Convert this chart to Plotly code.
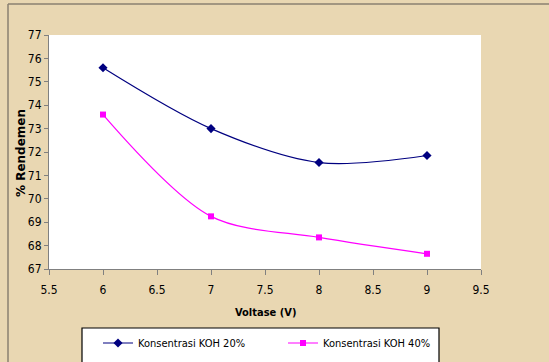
import plotly.graph_objects as go

voltase = [6, 7, 8, 9]
koh20 = [75.6, 73.0, 71.55, 71.85]
koh40 = [73.6, 69.25, 68.35, 67.65]
x_ticks = [5.5, 6, 6.5, 7, 7.5, 8, 8.5, 9, 9.5]
y_ticks = [67, 68, 69, 70, 71, 72, 73, 74, 75, 76, 77]

narrow = "Liberation Sans Narrow, Arial Narrow, DejaVu Sans Condensed"

PW, PH = 432, 234  # plot area size in px


def px_x(p):
    return (p - 49) / PW


def px_y(p):
    return (269 - p) / PH


fig = go.Figure()
fig.add_trace(go.Scatter(
    x=voltase, y=koh20, name="Konsentrasi KOH 20%", mode="lines+markers",
    line=dict(color="#000080", width=1.2, shape="spline", smoothing=0.9),
    marker=dict(symbol="diamond", size=7, color="#000080"), legend="legend"))
fig.add_trace(go.Scatter(
    x=voltase, y=koh40, name="Konsentrasi KOH 40%", mode="lines+markers",
    line=dict(color="#FF00FF", width=1.2, shape="spline", smoothing=0.9),
    marker=dict(symbol="square", size=6, color="#FF00FF"), legend="legend2"))

leg_common = dict(orientation="h", xanchor="left", yanchor="middle",
                  bgcolor="rgba(0,0,0,0)", borderwidth=0,
                  font=dict(family=narrow, size=11), itemwidth=30)

fig.update_layout(
    width=549, height=362,
    margin=dict(l=49, r=68, t=35, b=93, autoexpand=False),
    paper_bgcolor="#E9D7B2",
    plot_bgcolor="#FFFFFF",
    font=dict(family=narrow, size=12, color="#000000"),
    showlegend=True,
    legend=dict(x=px_x(98), y=px_y(343), **leg_common),
    legend2=dict(x=px_x(283), y=px_y(343), **leg_common),
    shapes=[
        dict(type="rect", xref="paper", yref="paper",
             x0=px_x(82), x1=px_x(439), y0=px_y(380), y1=px_y(328),
             fillcolor="#FFFFFF", line=dict(color="#000000", width=1.2),
             layer="below"),
        dict(type="line", xref="paper", yref="paper",
             x0=px_x(8), x1=px_x(560), y0=px_y(4), y1=px_y(4),
             line=dict(color="#8A8070", width=1.5)),
        dict(type="line", xref="paper", yref="paper",
             x0=px_x(8), x1=px_x(8), y0=px_y(4), y1=px_y(380),
             line=dict(color="#8A8070", width=1.5)),
    ],
    annotations=[
        dict(text="<b>% Rendemen</b>", xref="paper", yref="paper",
             x=px_x(21), y=px_y(153), xanchor="center", yanchor="middle",
             showarrow=False, textangle=-90,
             font=dict(family="DejaVu Sans", size=12)),
        dict(text="<b>Voltase (V)</b>", xref="paper", yref="paper",
             x=px_x(265), y=px_y(312), xanchor="center", yanchor="middle",
             showarrow=False, font=dict(family=narrow, size=11)),
    ],
)
fig.update_xaxes(
    range=[5.5, 9.5], tickvals=x_ticks, ticktext=[str(v) for v in x_ticks],
    showgrid=False, zeroline=False, showline=True, linecolor="#808080",
    linewidth=1, ticks="outside", ticklen=5, tickcolor="#808080",
    ticklabelstandoff=5,
    tickfont=dict(family=narrow, size=12), automargin=False)
fig.update_yaxes(
    range=[67, 77], tickvals=y_ticks, ticktext=[str(v) for v in y_ticks],
    showgrid=False, zeroline=False, showline=True, linecolor="#808080",
    linewidth=1, ticks="outside", ticklen=4, tickcolor="#808080",
    tickfont=dict(family=narrow, size=12), automargin=False)

fig.write_html("out.html", config={"displayModeBar": False},
               post_script="document.body.style.margin='0';")
